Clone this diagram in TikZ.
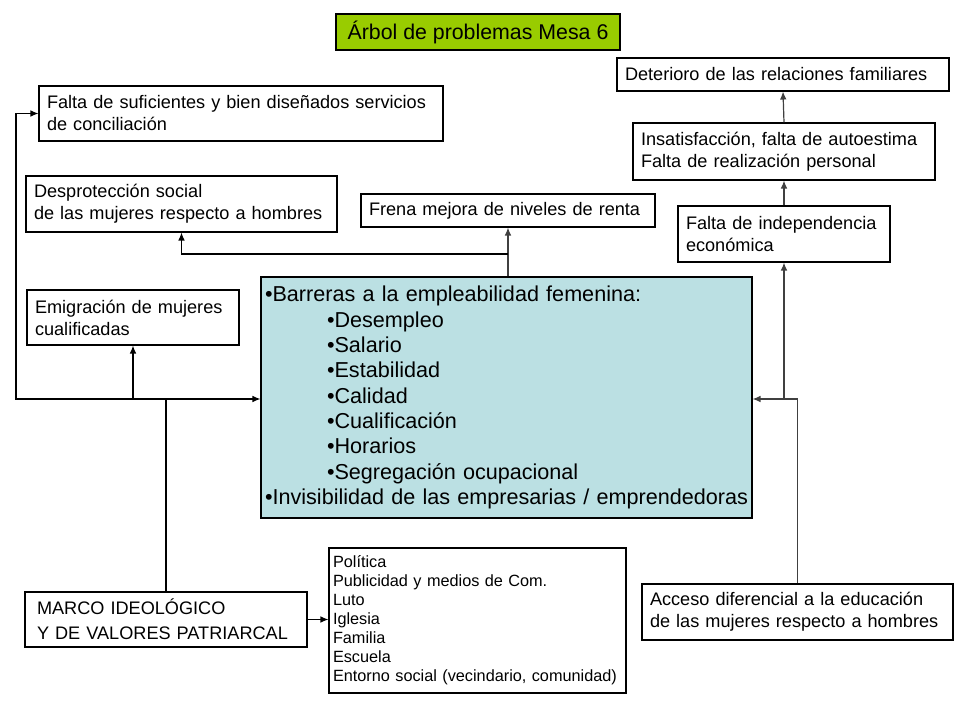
\documentclass[tikz,border=0pt]{standalone}
\usepackage{fontspec}
\setmainfont{Liberation Sans}
\usetikzlibrary{arrows.meta}

\definecolor{verdetit}{RGB}{153,204,0}
\definecolor{azulcaja}{RGB}{187,224,227}

\begin{document}
\begin{tikzpicture}[x=0.75pt,y=-0.75pt,
	caja/.style={draw=black,line width=0.8pt,align=left,inner xsep=6pt,inner ysep=0pt,
		font=\fontsize{13.6}{16.5}\selectfont},
	flecha/.style={line width=0.9pt,-{Latex[length=6pt,width=5pt]}},
	linea/.style={line width=0.9pt}]
	\useasboundingbox (0,0) rectangle (960,720);

	\node[caja,fill=verdetit,align=center,minimum width=213pt,minimum height=27pt,
		font=\fontsize{16}{19}\selectfont] (titulo) at (478,32) {Árbol de problemas Mesa 6};

	\node[caja,text width=291pt,minimum height=41.25pt] (conc) at (241,113.5)
		{Falta de suficientes y bien diseñados servicios\\de conciliación};
	\node[caja,text width=221.25pt,minimum height=42pt] (desp) at (181.5,204)
		{Desprotección social\\de las mujeres respecto a hombres};
	\node[caja,text width=208.5pt,minimum height=24.75pt] (renta) at (508,210.5)
		{Frena mejora de niveles de renta};
	\node[caja,text width=237pt,minimum height=24.75pt] (det) at (783,74.5)
		{Deterioro de las relaciones familiares};
	\node[caja,text width=214.5pt,minimum height=42.75pt] (insat) at (784,151.5)
		{Insatisfacción, falta de autoestima\\Falta de realización personal};
	\node[caja,text width=147pt,minimum height=42pt] (indep) at (784,234)
		{Falta de independencia\\económica};
	\node[caja,text width=147pt,minimum height=41.25pt] (emig) at (133,317.5)
		{Emigración de mujeres\\cualificadas};

	\node[caja,fill=azulcaja,inner xsep=3pt,text width=362.25pt,minimum height=180.75pt,
		font=\fontsize{16.2}{19}\selectfont] (barr) at (506.5,397.5)
		{•Barreras a la empleabilidad femenina:\\
		\hspace*{46.5pt}•Desempleo\\
		\hspace*{46.5pt}•Salario\\
		\hspace*{46.5pt}•Estabilidad\\
		\hspace*{46.5pt}•Calidad\\
		\hspace*{46.5pt}•Cualificación\\
		\hspace*{46.5pt}•Horarios\\
		\hspace*{46.5pt}•Segregación ocupacional\\
		•Invisibilidad de las empresarias / emprendedoras};

	\node[caja,inner xsep=9pt,text width=193.5pt,minimum height=41.25pt,
		font=\fontsize{13.6}{18.75}\selectfont] (marco) at (166,619.5)
		{MARCO IDEOLÓGICO\\Y DE VALORES PATRIARCAL};
	\node[caja,inner xsep=3pt,text width=216.75pt,minimum height=108.75pt,
		font=\fontsize{12.2}{14.25}\selectfont] (agentes) at (477.5,620.5)
		{Política\\Publicidad y medios de Com.\\Luto\\Iglesia\\Familia\\Escuela\\Entorno social (vecindario, comunidad)};
	\node[caja,text width=221.25pt,minimum height=42pt] (educ) at (797.5,612)
		{Acceso diferencial a la educación\\de las mujeres respecto a hombres};

	\coordinate (cruce) at (166,399);
	\coordinate (izq) at (16,399);
	\coordinate (rama) at (508,254);

	\draw[linea] (marco.north) -- (cruce);
	\draw[flecha] (cruce) -- (barr.west |- cruce);
	\draw[flecha] (cruce) -- (izq) |- (conc.west);
	\draw[flecha] (emig.south |- cruce) -- (emig.south);
	\draw[flecha] (marco.east) -- (agentes.west |- marco.east);

	\draw[flecha,black!75] (renta.south |- barr.north) -- (renta.south);
	\draw[flecha] (rama) -| (desp.south);

	\draw[flecha,black!75] (educ.north) |- (barr.east |- cruce);
	\draw[flecha,black!75] (indep.south |- cruce) -- (indep.south);
	\draw[flecha,black!75] (indep.north) -- (insat.south);
	\draw[flecha,black!75] (insat.north) -- (det.south);
\end{tikzpicture}
\end{document}
